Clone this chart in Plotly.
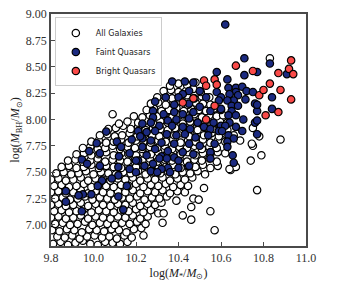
import plotly.graph_objects as go

# ---- data ----
series_names = ["All Galaxies", "Faint Quasars", "Bright Quasars"]

all_galaxies = [
    (9.81,6.82),(9.845,6.84),(9.88,6.81),(9.915,6.83),(9.95,6.85),(9.985,6.82),(10.02,6.81),(10.055,6.84),(10.09,6.83),(10.125,6.82),(10.16,6.84),
    (9.83,6.89),(9.865,6.88),(9.90,6.90),(9.935,6.87),(9.97,6.89),(10.005,6.90),(10.04,6.88),(10.075,6.89),(10.11,6.87),(10.145,6.90),(10.18,6.88),(10.235,6.90),
    (9.805,6.95),(9.84,6.94),(9.875,6.96),(9.91,6.95),(9.945,6.93),(9.98,6.96),(10.015,6.95),(10.05,6.94),(10.085,6.96),(10.12,6.95),(10.155,6.93),(10.19,6.96),(10.225,6.97),
    (9.82,7.01),(9.855,7.02),(9.89,7.00),(9.925,7.01),(9.96,7.03),(9.995,7.00),(10.03,7.02),(10.065,7.01),(10.10,7.00),(10.135,7.02),(10.17,7.01),(10.205,7.03),(10.245,7.01),(10.325,7.02),
    (9.80,7.07),(9.835,7.08),(9.87,7.06),(9.905,7.07),(9.94,7.09),(9.975,7.06),(10.01,7.08),(10.045,7.07),(10.08,7.06),(10.115,7.08),(10.15,7.07),(10.185,7.09),(10.22,7.06),(10.255,7.08),(10.305,7.11),(10.33,7.11),
    (9.815,7.13),(9.85,7.14),(9.885,7.12),(9.92,7.13),(9.955,7.15),(9.99,7.12),(10.025,7.14),(10.06,7.13),(10.095,7.12),(10.13,7.14),(10.165,7.13),(10.20,7.15),(10.235,7.12),(10.27,7.14),
    (9.80,7.19),(9.835,7.20),(9.87,7.18),(9.905,7.19),(9.94,7.21),(9.975,7.18),(10.01,7.20),(10.045,7.19),(10.08,7.18),(10.115,7.20),(10.15,7.19),(10.185,7.21),(10.22,7.18),(10.255,7.20),(10.29,7.19),(10.32,7.21),
    (9.82,7.25),(9.855,7.26),(9.89,7.24),(9.925,7.25),(9.96,7.27),(9.995,7.24),(10.03,7.26),(10.065,7.25),(10.10,7.24),(10.135,7.26),(10.17,7.25),(10.205,7.27),(10.24,7.24),(10.275,7.26),(10.31,7.25),(10.345,7.27),(10.39,7.23),(10.47,7.25),(10.495,7.24),
    (9.80,7.31),(9.835,7.32),(9.87,7.30),(9.905,7.31),(9.94,7.33),(9.975,7.30),(10.01,7.32),(10.045,7.31),(10.08,7.30),(10.115,7.32),(10.15,7.31),(10.185,7.33),(10.22,7.30),(10.255,7.32),(10.29,7.31),(10.325,7.33),(10.36,7.30),(10.395,7.32),(10.43,7.31),(10.52,7.35),
    (9.815,7.37),(9.85,7.38),(9.885,7.36),(9.92,7.37),(9.955,7.39),(9.99,7.36),(10.025,7.38),(10.06,7.37),(10.095,7.36),(10.13,7.38),(10.165,7.37),(10.20,7.39),(10.235,7.36),(10.27,7.38),(10.305,7.37),(10.34,7.39),(10.375,7.36),(10.41,7.38),(10.445,7.37),
    (9.80,7.43),(9.835,7.44),(9.87,7.42),(9.905,7.43),(9.94,7.45),(9.975,7.42),(10.01,7.44),(10.045,7.43),(10.08,7.42),(10.115,7.44),(10.15,7.43),(10.185,7.45),(10.22,7.42),(10.255,7.44),(10.29,7.43),(10.325,7.45),(10.36,7.42),(10.395,7.44),(10.43,7.43),(10.465,7.45),
    (9.825,7.49),(9.86,7.50),(9.895,7.48),(9.93,7.49),(9.965,7.51),(10.0,7.48),(10.035,7.50),(10.07,7.49),(10.105,7.48),(10.14,7.50),(10.175,7.49),(10.21,7.51),(10.245,7.48),(10.28,7.50),(10.315,7.49),(10.35,7.51),(10.385,7.48),(10.42,7.50),(10.455,7.49),(10.49,7.51),(10.525,7.48),
    (9.85,7.55),(9.885,7.56),(9.92,7.54),(9.955,7.55),(9.99,7.57),(10.025,7.54),(10.06,7.56),(10.095,7.55),(10.13,7.54),(10.165,7.56),(10.20,7.55),(10.235,7.57),(10.27,7.54),(10.305,7.56),(10.34,7.55),(10.375,7.57),(10.41,7.54),(10.445,7.56),(10.48,7.55),(10.515,7.57),(10.55,7.54),(10.585,7.56),(10.645,7.52),(10.67,7.55),
    (9.88,7.61),(9.915,7.62),(9.95,7.60),(9.985,7.61),(10.02,7.63),(10.055,7.60),(10.09,7.62),(10.125,7.61),(10.16,7.60),(10.195,7.62),(10.23,7.61),(10.265,7.63),(10.30,7.60),(10.335,7.62),(10.37,7.61),(10.405,7.63),(10.44,7.60),(10.475,7.62),(10.51,7.61),(10.545,7.63),(10.58,7.60),(10.74,7.61),
    (9.92,7.67),(9.955,7.68),(9.99,7.66),(10.025,7.67),(10.06,7.69),(10.095,7.66),(10.13,7.68),(10.165,7.67),(10.20,7.66),(10.235,7.68),(10.27,7.67),(10.305,7.69),(10.34,7.66),(10.375,7.68),(10.41,7.67),(10.445,7.69),(10.48,7.66),(10.515,7.68),(10.55,7.67),(10.585,7.69),(10.62,7.68),(10.79,7.66),
    (9.95,7.73),(9.985,7.74),(10.02,7.72),(10.055,7.73),(10.09,7.75),(10.125,7.72),(10.16,7.74),(10.195,7.73),(10.23,7.72),(10.265,7.74),(10.30,7.73),(10.335,7.75),(10.37,7.72),(10.405,7.74),(10.44,7.73),(10.475,7.75),(10.51,7.72),(10.545,7.74),(10.58,7.73),(10.75,7.75),
    (9.99,7.79),(10.025,7.80),(10.06,7.78),(10.095,7.79),(10.13,7.81),(10.165,7.78),(10.20,7.80),(10.235,7.79),(10.27,7.78),(10.305,7.80),(10.34,7.79),(10.375,7.81),(10.41,7.78),(10.445,7.80),(10.48,7.79),(10.515,7.81),(10.55,7.78),(10.585,7.80),(10.62,7.79),(10.69,7.80),(10.745,7.77),(10.78,7.84),(10.88,7.81),
    (10.03,7.85),(10.065,7.86),(10.10,7.84),(10.135,7.85),(10.17,7.87),(10.205,7.84),(10.24,7.86),(10.275,7.85),(10.31,7.84),(10.345,7.86),(10.38,7.85),(10.415,7.87),(10.45,7.84),(10.485,7.86),(10.52,7.85),(10.555,7.87),(10.59,7.84),(10.625,7.86),(10.66,7.85),
    (10.07,7.91),(10.105,7.92),(10.14,7.94),(10.175,7.91),(10.21,7.93),(10.245,7.90),(10.28,7.92),(10.315,7.91),(10.35,7.90),(10.385,7.92),(10.42,7.91),(10.455,7.93),(10.49,7.90),(10.525,7.92),(10.56,7.91),(10.595,7.93),(10.63,7.90),(10.75,7.92),
    (10.12,7.96),(10.16,7.98),(10.21,7.97),(10.245,7.99),(10.28,7.96),(10.315,7.98),(10.35,7.97),(10.385,7.99),(10.42,7.96),(10.455,7.98),(10.49,7.97),(10.525,7.99),(10.56,7.96),(10.595,7.98),(10.63,7.97),
    (10.09,8.05),(10.19,8.03),(10.23,8.02),(10.265,8.04),(10.30,8.03),(10.335,8.05),(10.37,8.02),(10.405,8.04),(10.44,8.03),(10.475,8.05),(10.51,8.02),(10.545,8.04),(10.58,8.03),(10.61,8.04),
    (10.25,8.09),(10.285,8.10),(10.32,8.08),(10.355,8.09),(10.39,8.11),(10.425,8.08),(10.46,8.10),(10.495,8.09),(10.53,8.08),(10.565,8.10),(10.60,8.09),
    (10.27,8.15),(10.305,8.16),(10.34,8.14),(10.375,8.15),(10.41,8.17),(10.445,8.14),(10.48,8.16),(10.515,8.15),(10.55,8.14),
    (10.30,8.21),(10.335,8.22),(10.37,8.20),(10.405,8.21),(10.44,8.23),(10.475,8.20),(10.51,8.22),(10.545,8.21),
    (10.33,8.27),(10.365,8.28),(10.40,8.26),(10.435,8.27),(10.47,8.29),(10.505,8.26),
    (10.36,8.32),(10.40,8.34),(10.44,8.33),(10.48,8.35),
    (10.83,8.58),(10.77,7.33),(10.57,6.95),(10.55,7.13),(10.46,7.05),(10.42,7.09),(10.46,7.17),(10.64,7.53),
]

faint_quasars = [
    (10.62,8.90),
    (10.71,8.58),(10.83,8.53),(10.77,8.45),(10.71,8.42),(10.91,8.43),(10.58,8.45),(10.63,8.38),
    (10.43,8.36),(10.37,8.36),(10.47,8.35),(10.50,8.27),(10.58,8.26),(10.45,8.27),(10.42,8.24),(10.34,8.21),
    (10.40,8.21),(10.60,8.21),(10.53,8.21),(10.59,8.18),(10.29,8.17),(10.38,8.14),(10.45,8.15),(10.50,8.12),
    (10.55,8.08),(10.60,8.10),(10.28,8.08),(10.33,8.05),(10.38,8.07),(10.42,8.05),(10.47,8.07),(10.28,8.02),
    (10.35,7.99),(10.39,8.00),(10.45,8.01),(10.49,7.97),(10.565,7.97),(10.60,7.94),(10.23,7.96),(10.27,7.97),
    (10.31,7.94),(10.37,7.94),(10.42,7.93),(10.455,7.91),(10.52,7.93),(10.55,7.91),(10.59,7.89),(10.21,7.89),
    (10.25,7.88),(10.29,7.89),(10.345,7.86),(10.39,7.85),(10.43,7.86),(10.48,7.83),(10.54,7.85),(10.23,7.82),
    (10.27,7.80),(10.32,7.78),(10.38,7.77),(10.45,7.77),(10.50,7.75),(10.57,7.77),(10.23,7.74),(10.29,7.72),
    (10.35,7.70),(10.42,7.69),(10.47,7.67),(10.55,7.69),(10.25,7.66),(10.32,7.65),(10.38,7.64),
    (10.21,7.61),(10.24,7.56),(10.28,7.58),(10.31,7.63),(10.345,7.63),(10.35,7.54),(10.40,7.61),(10.40,7.54),
    (10.45,7.56),(10.55,7.63),(10.27,7.51),(10.32,7.53),(10.30,7.50),(10.36,7.50),
    (10.06,7.885),(10.015,7.775),(9.98,7.70),(10.03,7.68),(9.945,7.62),(10.11,7.79),(10.13,7.74),(10.18,7.81),
    (10.17,7.68),(10.12,7.65),(10.20,7.61),(10.22,7.84),
    (9.97,7.58),(10.03,7.56),(10.117,7.55),(10.117,7.47),(10.086,7.44),(10.04,7.42),(10.02,7.37),(9.99,7.29),
    (9.95,7.29),(9.93,7.28),(9.87,7.32),(9.87,7.22),(9.945,7.13),(10.157,7.37),(10.117,7.27),(10.14,7.145),
    (10.17,7.53),(10.20,7.50),
    (10.635,8.30),(10.67,8.30),(10.70,8.31),(10.72,8.27),(10.75,8.26),(10.67,8.26),(10.64,8.24),(10.68,8.23),
    (10.715,8.19),(10.84,8.21),(10.66,8.18),(10.63,8.18),(10.76,8.15),(10.65,8.13),(10.68,8.13),(10.65,8.08),
    (10.84,8.10),(10.77,8.08),(10.635,8.04),(10.67,8.04),(10.705,8.00),(10.76,7.97),(10.64,7.97),(10.62,7.94),
    (10.67,7.93),(10.605,7.89),(10.70,7.89),(10.77,7.99),(10.77,7.86),(10.635,7.85),(10.66,7.82),(10.63,7.79),
    (10.77,8.14),(10.655,7.66),(10.66,7.59),(10.63,7.74),
]

bright_quasars = [
    (10.42,8.16),(10.47,8.20),(10.52,8.37),(10.53,8.32),(10.57,8.38),(10.58,8.33),(10.57,8.13),
    (10.53,8.00),(10.67,8.51),(10.75,8.46),(10.78,8.23),(10.80,8.28),(10.81,8.04),(10.83,8.34),
    (10.87,8.44),(10.88,8.28),(10.87,8.07),(10.92,8.48),(10.93,8.56),(10.94,8.43),(10.93,8.19),
]

fill_colors = ["#ffffff", "#1b2a80", "#fa4a48"]

x_ticks = [9.8, 10.0, 10.2, 10.4, 10.6, 10.8, 11.0]
x_tick_labels = ["9.8", "10.0", "10.2", "10.4", "10.6", "10.8", "11.0"]
y_ticks = [7.00, 7.25, 7.50, 7.75, 8.00, 8.25, 8.50, 8.75, 9.00]
y_tick_labels = ["7.00", "7.25", "7.50", "7.75", "8.00", "8.25", "8.50", "8.75", "9.00"]

fig = go.Figure()
for name, pts, col in zip(series_names, [all_galaxies, faint_quasars, bright_quasars], fill_colors):
    xs = [p[0] for p in pts]
    ys = [p[1] for p in pts]
    fig.add_trace(go.Scatter(
        x=xs, y=ys, mode="markers", name=name,
        marker=dict(size=7.4, color=col, line=dict(color="#000000", width=1.2)),
        cliponaxis=True,
    ))

serif = "Liberation Serif"
axis_common = dict(
    showgrid=False, zeroline=False, showline=True, mirror=True, automargin=False,
    linecolor="#4a4a4a", linewidth=1.6,
    ticks="inside", ticklen=4, tickwidth=1, tickcolor="#4a4a4a",
    ticklabeloverflow="allow",
    tickfont=dict(family=serif, size=12, color="#333333"),
    title_font=dict(family=serif, size=12, color="#222222"),
)

# page body has an 8px default margin, so the figure is sized/margined to land
# the plot area at the same pixel position as in the reference
fig.update_layout(
    width=332, height=282,
    margin=dict(l=43, r=34, t=6, b=44),
    paper_bgcolor="white", plot_bgcolor="white",
    showlegend=True,
    legend=dict(
        x=0.015, y=0.985, xanchor="left", yanchor="top",
        bgcolor="rgba(255,255,255,0.92)", bordercolor="#cccccc", borderwidth=1,
        font=dict(family="DejaVu Sans", size=8, color="#222222"),
    ),
    xaxis=dict(range=[9.8, 11.0], tickvals=x_ticks, ticktext=x_tick_labels,
               title=dict(text="log(<i>M</i><sub>*</sub>/<i>M</i><sub>⊙</sub>)", standoff=4),
               **axis_common),
    yaxis=dict(range=[6.8, 9.0], tickvals=y_ticks, ticktext=y_tick_labels,
               title=dict(text="log(<i>M</i><sub>BH</sub>/<i>M</i><sub>⊙</sub>)", standoff=8),
               **axis_common),
)

fig.write_html("out.html")
